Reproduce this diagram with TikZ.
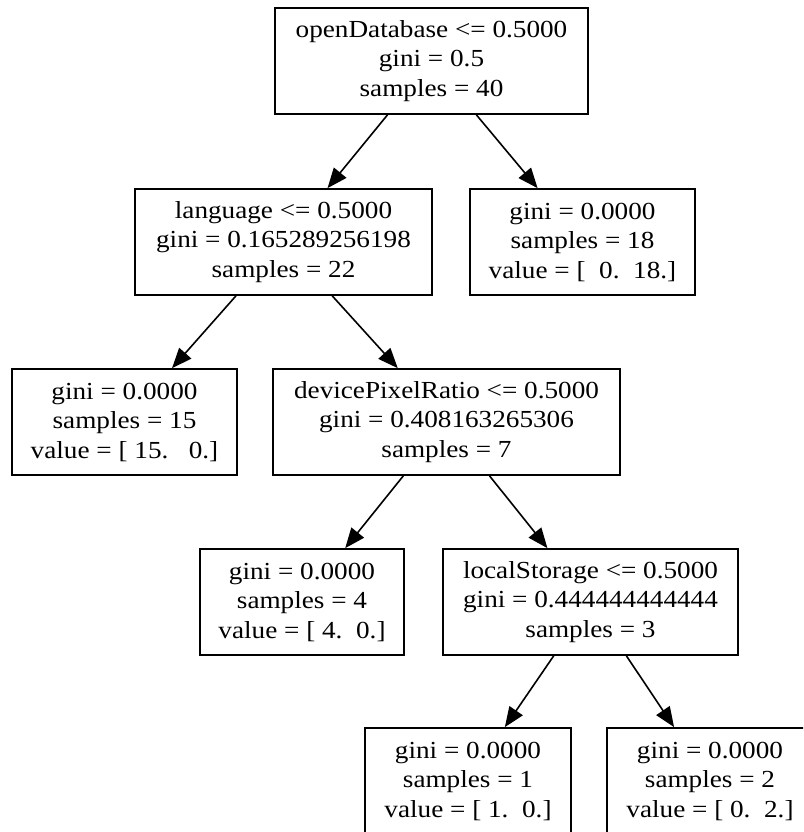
\documentclass[tikz,border=0pt]{standalone}
\usepackage{fontspec}
\setmainfont[FakeStretch=1.11]{Liberation Serif}
\usetikzlibrary{arrows.meta}
\begin{document}
\begin{tikzpicture}[x=1pt,y=-1pt,
  treebox/.style={draw, line width=1.7pt, rectangle, minimum height=106pt,
    inner sep=0pt, align=center, font=\fontsize{24.5}{29.5}\selectfont},
  split/.style={-{Triangle[length=20pt,width=16pt]}, line width=1.6pt}]
  % canvas
  \fill[white] (0,0) rectangle (803,832);
  \useasboundingbox (0,0) rectangle (803,832);
  \clip (0,0) rectangle (803,832);

  % level 1
  \node[treebox, minimum width=313pt] (root) at (431.5,61)
    {openDatabase <= 0.5000\\gini = 0.5\\samples = 40};
  % level 2
  \node[treebox, minimum width=297pt] (lang) at (283.5,242)
    {language <= 0.5000\\gini = 0.165289256198\\samples = 22};
  \node[treebox, minimum width=225pt] (g18) at (582.5,242)
    {gini = 0.0000\\samples = 18\\value = [\ \ 0.\ \ 18.]};
  % level 3
  \node[treebox, minimum width=225pt] (g15) at (124.5,422)
    {gini = 0.0000\\samples = 15\\value = [\ 15.\ \ \ 0.]};
  \node[treebox, minimum width=347pt] (dpr) at (446.5,422)
    {devicePixelRatio <= 0.5000\\gini = 0.408163265306\\samples = 7};
  % level 4
  \node[treebox, minimum width=204pt] (g4) at (302,602)
    {gini = 0.0000\\samples = 4\\value = [\ 4.\ \ 0.]};
  \node[treebox, minimum width=295pt] (ls) at (590.5,602)
    {localStorage <= 0.5000\\gini = 0.444444444444\\samples = 3};
  % level 5
  \node[treebox, minimum width=206pt] (g1) at (468,781)
    {gini = 0.0000\\samples = 1\\value = [\ 1.\ \ 0.]};
  \node[treebox, minimum width=206pt] (g2) at (710,781)
    {gini = 0.0000\\samples = 2\\value = [\ 0.\ \ 2.]};

  % splits
  \draw[split] (root) -- (lang);
  \draw[split] (root) -- (g18);
  \draw[split] (lang) -- (g15);
  \draw[split] (lang) -- (dpr);
  \draw[split] (dpr) -- (g4);
  \draw[split] (dpr) -- (ls);
  \draw[split] (ls) -- (g1);
  \draw[split] (ls) -- (g2);
\end{tikzpicture}
\end{document}
